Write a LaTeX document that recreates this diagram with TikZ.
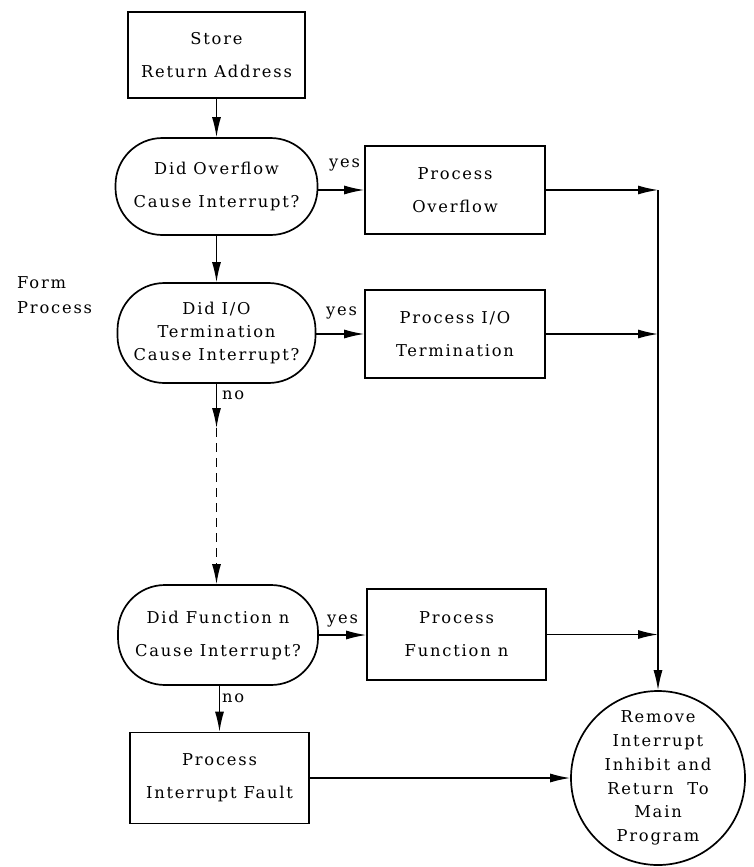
\documentclass[tikz,border=0pt]{standalone}
\usepackage{fontspec}
\setmainfont{DejaVu Serif}[LetterSpace=11]
\usetikzlibrary{arrows.meta}
\begin{document}
\begin{tikzpicture}[x=1pt,y=-1pt,
  font=\fontsize{16.3}{33}\selectfont,
  box/.style={draw,line width=1.7pt,rectangle,inner sep=0pt,align=center},
  oval/.style={draw,line width=1.7pt,rectangle,rounded corners=47pt,inner sep=0pt,align=center},
  term/.style={draw,line width=1.7pt,circle,inner sep=0pt,align=center},
  conn/.style={line width=1.3pt,-{Latex[length=20pt,width=9pt]}},
  plain/.style={line width=1.3pt},
  lbl/.style={inner sep=0pt,anchor=base west}]
\useasboundingbox (0,0) rectangle (753,867);
% nodes
\node[box,minimum width=177pt,minimum height=86pt] (store) at (216.5,55) {Store\\Return Address};
\node[oval,minimum width=202pt,minimum height=97pt] (q1) at (216.5,186.5) {Did Overflow\\Cause Interrupt?};
\node[box,minimum width=180pt,minimum height=88pt] (po) at (455,190) {Process\\Overflow};
\node[oval,minimum width=198pt,minimum height=100pt,font=\fontsize{16.3}{23}\selectfont] (q2) at (216.5,333) {Did I/O\\Termination\\Cause Interrupt?};
\node[box,minimum width=180pt,minimum height=88pt] (pio) at (455,334) {Process I/O\\Termination};
\node[oval,minimum width=200pt,minimum height=100pt] (q3) at (218,635) {Did Function n\\Cause Interrupt?};
\node[box,minimum width=179pt,minimum height=91pt] (pf) at (456.5,634.5) {Process\\Function n};
\node[box,minimum width=179pt,minimum height=91pt] (fault) at (219.5,778) {Process\\Interrupt Fault};
\node[term,minimum size=174pt,font=\fontsize{16.3}{23.8}\selectfont] (rm) at (658,778) {Remove\\Interrupt\\Inhibit and\\Return~ To\\Main\\Program};
% labels
\node[lbl] (y1) at (329,167) {yes};
\node[lbl] (y2) at (326,315) {yes};
\node[lbl] (y3) at (327,623) {yes};
\node[lbl] (n1) at (222,399) {no};
\node[lbl] (n2) at (222,702) {no};
\node[anchor=north west,inner sep=0pt,align=left,font=\fontsize{16.3}{25}\selectfont] (form) at (17,276) {Form\\Process};
% coordinates
\coordinate (j1) at (658,190);
\coordinate (j2) at (658,334);
\coordinate (j3) at (658,634.5);
\coordinate (d1) at (216.5,428);
\coordinate (d2) at (216.5,563);
% connectors
\draw[conn] (store.south) -- (q1.north);
\draw[conn] (q1.east |- po.west) -- (po.west);
\draw[conn] (po.east) -- (j1);
\draw[conn] (j1) -- (rm.north);
\draw[conn] (q1.south) -- (q2.north);
\draw[conn] (q2.east |- pio.west) -- (pio.west);
\draw[conn] (pio.east) -- (j2);
\draw[conn] (q2.south) -- (d1);
\draw[plain,dash pattern=on 9pt off 6pt] (d1) -- (d2);
\draw[conn] (d2) -- (q3.north -| d2);
\draw[conn] (q3.east) -- (pf.west |- q3.east);
\draw[conn] (pf.east) -- (j3);
\draw[conn] (q3.south -| fault.north) -- (fault.north);
\draw[conn] (fault.east) -- (rm.west);
\end{tikzpicture}
\end{document}
